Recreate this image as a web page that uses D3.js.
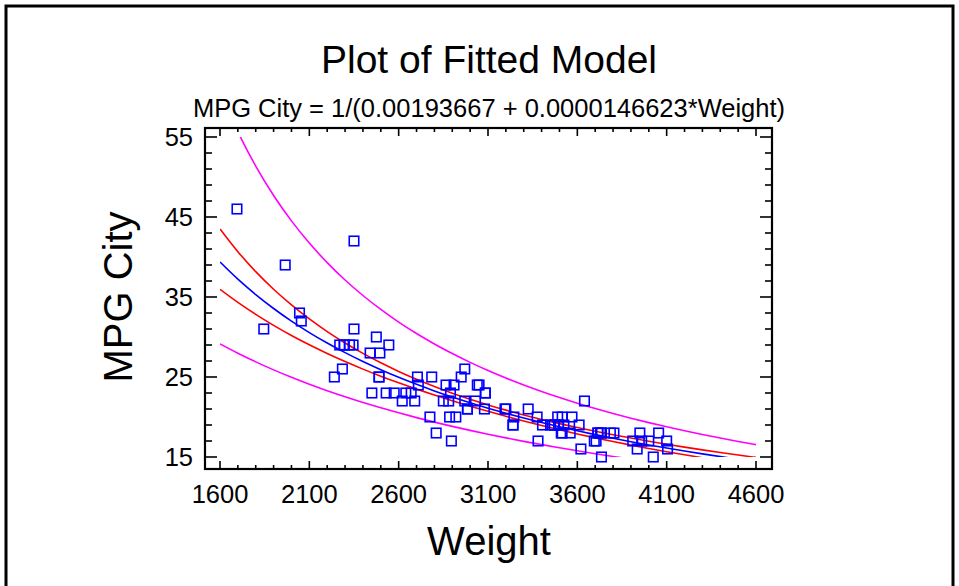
<!DOCTYPE html>
<html><head><meta charset="utf-8">
<script src="https://cdn.jsdelivr.net/npm/d3@7"></script>
<style>html,body{margin:0;padding:0;background:#fff;}svg{display:block;font-family:"Liberation Sans",Arial,sans-serif;}</style>
</head><body>
<script>
// ---- data (Cars93: Weight vs MPG City) ----
const weights = [2705,3560,3375,3405,3640,2880,3470,4105,3495,3620,3935,2490,2785,3240,3195,3715,4025,3910,3380,3515,3085,3570,2270,2670,2970,3705,3080,3805,2295,3490,1845,2530,2690,2850,2710,3735,3325,3950,1695,2475,2865,2350,3040,2345,2620,2285,2885,4000,3510,3515,3695,4055,2325,2440,2970,3735,2895,2920,3525,2450,3610,2295,3730,2545,3050,4100,3200,2910,2890,3715,3470,2640,2350,2575,3240,3450,3495,2775,2495,2045,2490,3085,1965,2055,2950,3030,3785,2240,3960,2985,2810,2985,3245];
const mpgCity = [25,18,20,19,22,22,19,16,19,16,16,25,25,19,21,18,15,17,17,20,23,20,29,23,22,17,21,18,29,20,31,23,22,22,24,15,21,18,46,30,24,42,24,29,22,26,20,17,18,18,17,18,29,28,26,18,17,20,19,23,19,29,18,29,24,17,21,24,23,18,19,23,31,23,19,19,19,20,28,33,25,23,39,32,25,22,18,25,17,21,18,21,20];

const curveWeights = [1600,1700,1800,1900,2000,2100,2200,2300,2400,2500,2600,2700,2800,2900,3000,3100,3200,3300,3400,3500,3600,3700,3800,3900,4000,4100,4200,4300,4400,4500,4600];
const fitMPG   = [39.375,37.226,35.300,33.563,31.988,30.555,29.245,28.043,26.935,25.912,24.963,24.082,23.261,22.494,21.775,21.102,20.468,19.872,19.309,18.778,18.275,17.798,17.345,16.915,16.505,16.115,15.743,15.388,15.049,14.724,14.413];
const upperCL  = [43.504,40.662,38.170,35.969,34.011,32.257,30.679,29.252,27.957,26.777,25.698,24.711,23.805,22.974,22.210,21.507,20.858,20.257,19.698,19.175,18.684,18.221,17.783,17.368,16.973,16.596,16.237,15.894,15.565,15.250,14.948];
const lowerCL  = [35.963,34.327,32.831,31.458,30.193,29.024,27.939,26.929,25.985,25.101,24.270,23.484,22.740,22.033,21.357,20.711,20.093,19.501,18.936,18.397,17.883,17.394,16.928,16.485,16.063,15.662,15.279,14.914,14.565,14.232,13.914];
const upperPL  = [60.734,55.654,51.364,47.694,44.518,41.744,39.298,37.127,35.187,33.442,31.865,30.432,29.125,27.927,26.826,25.811,24.871,23.999,23.187,22.430,21.721,21.057,20.435,19.848,19.295,18.774,18.280,17.813,17.369,16.948,16.548];
const lowerPL  = [29.131,27.967,26.890,25.891,24.963,24.097,23.288,22.530,21.819,21.150,20.520,19.924,19.362,18.830,18.325,17.846,17.390,16.956,16.543,16.149,15.772,15.412,15.067,14.737,14.420,14.117,13.825,13.545,13.275,13.016,12.766];

const xTicks = [1600,2100,2600,3100,3600,4100,4600];
const yTicks = [15,25,35,45,55];
const titleText = "Plot of Fitted Model";
const subtitleText = "MPG City = 1/(0.00193667 + 0.0000146623*Weight)";
const xLabel = "Weight";
const yLabel = "MPG City";

// ---- layout ----
const W = 959, H = 586;
const box = {left:205, right:772, top:128, bottom:469};
const svg = d3.select("body").append("svg").attr("width",W).attr("height",H);

// outer frame
svg.append("rect").attr("x",6).attr("y",6).attr("width",947).attr("height",H+10)
  .attr("fill","none").attr("stroke","#000").attr("stroke-width",3);

const x = d3.scaleLinear().domain([1600,4600]).range([220,756]);
const y = d3.scaleLinear().domain([15,55]).range([457,137]);

// titles
svg.append("text").attr("x",489).attr("y",73).attr("text-anchor","middle")
  .attr("font-size",39).text(titleText);
svg.append("text").attr("x",489).attr("y",117).attr("text-anchor","middle")
  .attr("font-size",25.5).text(subtitleText);
svg.append("text").attr("x",489).attr("y",555).attr("text-anchor","middle")
  .attr("font-size",40).text(xLabel);
svg.append("text").attr("transform","translate(132,297) rotate(-90)").attr("text-anchor","middle")
  .attr("font-size",40).text(yLabel);

// clip for curves
svg.append("clipPath").attr("id","clipc").append("rect")
  .attr("x",x(1600)).attr("y",y(55)).attr("width",x(4600)-x(1600)).attr("height",y(15)-y(55));

const line = d3.line().x((d,i)=>x(curveWeights[i])).y(d=>y(d)).curve(d3.curveMonotoneX);
const cg = svg.append("g").attr("clip-path","url(#clipc)");
[[upperPL,"#ff00ff"],[lowerPL,"#ff00ff"],[upperCL,"#ff0000"],[lowerCL,"#ff0000"],[fitMPG,"#0000ff"]].forEach(([arr,c])=>{
  cg.append("path").attr("d",line(arr)).attr("fill","none").attr("stroke",c).attr("stroke-width",1.6);
});

// points
const s = 9.5;
svg.append("g").selectAll("rect").data(weights).join("rect")
  .attr("x",(d)=>x(d)-s/2).attr("y",(d,i)=>y(mpgCity[i])-s/2)
  .attr("width",s).attr("height",s)
  .attr("fill","none").attr("stroke","#0000ff").attr("stroke-width",1.6);

// axes box
svg.append("rect").attr("x",box.left).attr("y",box.top)
  .attr("width",box.right-box.left).attr("height",box.bottom-box.top)
  .attr("fill","none").attr("stroke","#000").attr("stroke-width",2.2);

// ticks
const xMinor = d3.range(1600,4601,100);
const yMinor = d3.range(15,56,2);
const tg = svg.append("g").attr("stroke","#000").attr("stroke-width",1.6);
xMinor.forEach(v=>{
  const major = xTicks.includes(v);
  const L = major?8:4;
  tg.append("line").attr("x1",x(v)).attr("x2",x(v)).attr("y1",box.bottom).attr("y2",box.bottom-L);
  tg.append("line").attr("x1",x(v)).attr("x2",x(v)).attr("y1",box.top).attr("y2",box.top+L);
});
yMinor.forEach(v=>{
  const major = yTicks.includes(v);
  const L = major?12:7;
  tg.append("line").attr("y1",y(v)).attr("y2",y(v)).attr("x1",box.left).attr("x2",box.left+L);
  tg.append("line").attr("y1",y(v)).attr("y2",y(v)).attr("x1",box.right).attr("x2",box.right-L);
});

// tick labels
svg.append("g").selectAll("text").data(xTicks).join("text")
  .attr("x",d=>x(d)).attr("y",503).attr("text-anchor","middle").attr("font-size",25.5).text(d=>d);
svg.append("g").selectAll("text").data(yTicks).join("text")
  .attr("x",193).attr("y",d=>y(d)+9).attr("text-anchor","end").attr("font-size",25.5).text(d=>d);
</script>
</body></html>
